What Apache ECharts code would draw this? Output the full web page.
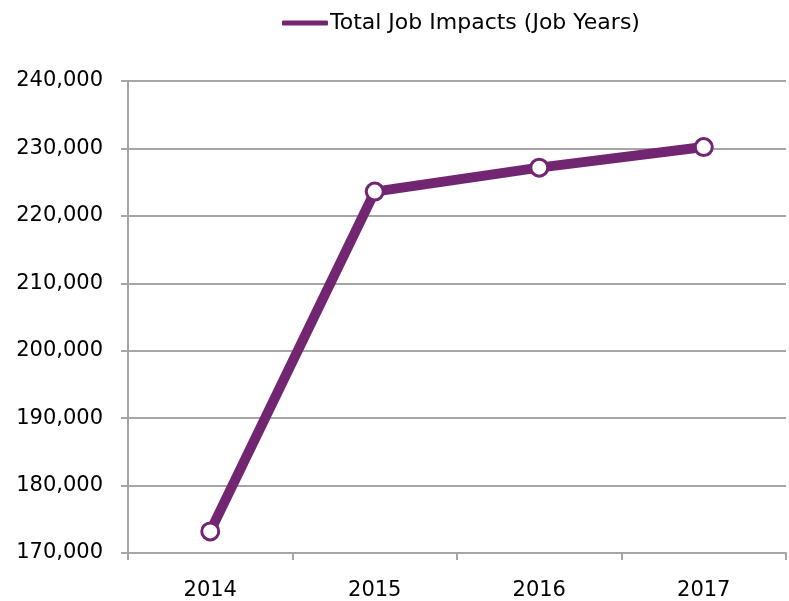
<!DOCTYPE html>
<html lang="en" style="height: 100%">
    <head>
        <meta charset="utf-8" />
    </head>
    <body style="height: 100%; margin: 0">
        <div id="container" style="width: 789px; height: 601px"></div>

        <script
            type="text/javascript"
            src="https://fastly.jsdelivr.net/npm/echarts@6/dist/echarts.min.js"
        ></script>

        <script type="text/javascript">
            var years = ['2014', '2015', '2016', '2017'];
            var jobYears = [173200, 223600, 227150, 230200];
            var seriesName = 'Total Job Impacts (Job Years)';

            var purple = '#722671';
            var gridColor = '#a6a6a6';
            var font = 'DejaVu Sans';

            var dom = document.getElementById('container');
            var myChart = echarts.init(dom, null, { renderer: 'canvas' });

            var option = {
                animation: false,
                backgroundColor: '#ffffff',
                legend: {
                    left: 277,
                    top: 7,
                    itemWidth: 46,
                    itemHeight: 5,
                    itemGap: 0,
                    icon: 'roundRect',
                    data: [seriesName],
                    itemStyle: { color: purple, borderWidth: 0 },
                    textStyle: {
                        fontFamily: font,
                        fontSize: 22,
                        color: '#000000',
                        padding: [0, 0, 0, -3]
                    }
                },
                grid: {
                    left: 128,
                    right: 3,
                    top: 81,
                    bottom: 48,
                    containLabel: false
                },
                xAxis: {
                    type: 'category',
                    data: years,
                    boundaryGap: true,
                    axisLine: { lineStyle: { color: gridColor, width: 2 } },
                    axisTick: {
                        show: true,
                        length: 7,
                        alignWithLabel: false,
                        lineStyle: { color: gridColor, width: 2 }
                    },
                    axisLabel: {
                        margin: 27,
                        fontFamily: font,
                        fontSize: 21,
                        color: '#000000'
                    }
                },
                yAxis: {
                    type: 'value',
                    min: 170000,
                    max: 240000,
                    interval: 10000,
                    axisLine: { show: true, lineStyle: { color: gridColor, width: 2 } },
                    axisTick: {
                        show: true,
                        length: 7,
                        lineStyle: { color: gridColor, width: 2 }
                    },
                    splitLine: { lineStyle: { color: gridColor, width: 2 } },
                    axisLabel: {
                        margin: 25,
                        fontFamily: font,
                        fontSize: 21,
                        color: '#000000',
                        formatter: function (v) {
                            return v.toLocaleString('en-US');
                        }
                    }
                },
                series: [
                    {
                        name: seriesName,
                        type: 'line',
                        data: jobYears,
                        symbol: 'circle',
                        symbolSize: 17,
                        showAllSymbol: true,
                        lineStyle: { color: purple, width: 10 },
                        itemStyle: {
                            color: '#ffffff',
                            borderColor: purple,
                            borderWidth: 3
                        }
                    }
                ]
            };

            myChart.setOption(option);
            window.addEventListener('resize', myChart.resize);
        </script>
    </body>
</html>
